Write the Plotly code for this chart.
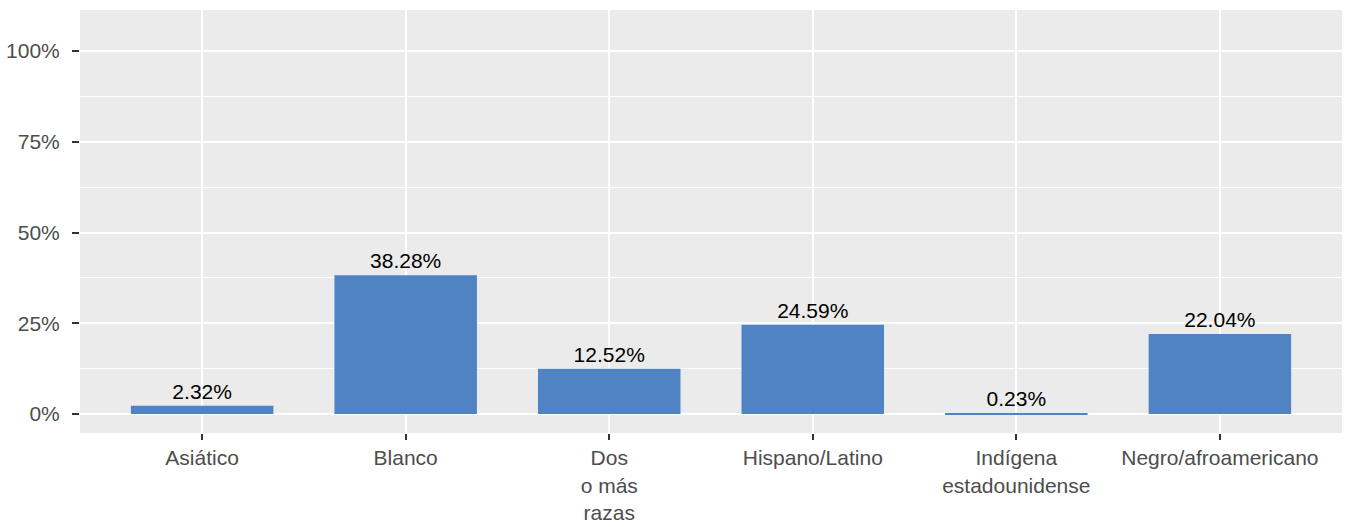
import plotly.graph_objects as go

categories = ["Asiático", "Blanco", "Dos<br>o más<br>razas", "Hispano/Latino",
              "Indígena<br>estadounidense", "Negro/afroamericano"]
values = [2.32, 38.28, 12.52, 24.59, 0.23, 22.04]
labels = ["2.32%", "38.28%", "12.52%", "24.59%", "0.23%", "22.04%"]
y_ticks = [0, 25, 50, 75, 100]
y_tick_labels = ["0%", "25%", "50%", "75%", "100%"]

FONT = "Liberation Sans, Arial, sans-serif"

fig = go.Figure(go.Bar(
    x=list(range(len(categories))), y=values, text=labels,
    textposition="outside", cliponaxis=False,
    textfont=dict(family=FONT, size=21, color="black"),
    marker=dict(color="#4F83C4", line=dict(width=0)),
    width=0.7,
    hoverinfo="skip",
))

fig.update_layout(
    width=1345, height=527,
    margin=dict(l=80, r=3, t=10, b=94),
    paper_bgcolor="white", plot_bgcolor="#EBEBEB",
    font=dict(family=FONT, size=21, color="#4D4D4D"),
    showlegend=False,
)
fig.update_xaxes(
    tickmode="array", tickvals=list(range(len(categories))), ticktext=categories,
    range=[-0.6, 5.6], showgrid=True, gridcolor="white", gridwidth=2,
    ticks="outside", ticklen=6, tickwidth=2, tickcolor="#333333",
    zeroline=False, showline=False,
    tickfont=dict(family=FONT, size=21, color="#4D4D4D"),
)
fig.update_yaxes(
    tickmode="array", tickvals=y_ticks, ticktext=y_tick_labels,
    range=[-5.2, 111.3], showgrid=True, gridcolor="white", gridwidth=2,
    ticks="outside", ticklen=7, tickwidth=2, tickcolor="#333333",
    ticklabelstandoff=8,
    zeroline=False, showline=False,
    minor=dict(tickmode="array", tickvals=[12.5, 37.5, 62.5, 87.5],
               showgrid=True, gridcolor="white", gridwidth=1, ticks=""),
    tickfont=dict(family=FONT, size=21, color="#4D4D4D"),
)

fig.write_html(
    "out.html",
    config={"displayModeBar": False},
    post_script="document.body.style.margin='0';document.body.style.overflow='hidden';",
)
